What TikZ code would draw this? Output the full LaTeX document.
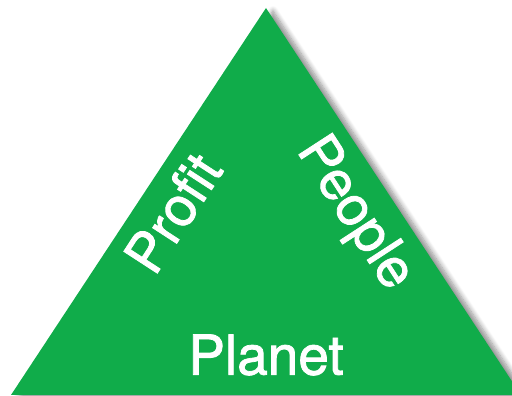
\documentclass[tikz,border=0pt]{standalone}
\usepackage{fontspec}
\setmainfont{TeX Gyre Heros}
\newfontfamily\labelfont[FakeBold=1.4]{TeX Gyre Heros}
\usetikzlibrary{%
		shadows.blur%
	}
\definecolor{leafgreen}{RGB}{16,172,74}

\begin{document}
\begin{tikzpicture}[x=1pt, y=1pt,
		label3p/.style={text=white, font=\labelfont\fontsize{55}{55}\selectfont, inner sep=0pt}]
			\useasboundingbox (0,0) rectangle (512,396);
			
			% Corners
			\coordinate (top) at (266,388);
			\coordinate (left) at (11,1);
			\coordinate (right) at (521,1);
			
			% Triangle
			\fill[leafgreen, blur shadow={shadow xshift=7pt, shadow yshift=-3pt, shadow blur steps=8, shadow blur radius=5pt, shadow opacity=45}] (top) -- (right) -- (left) -- cycle;
			
			% Labels
			\node[label3p, rotate=57] (profit) at (173,183) {Profit};
			\node[label3p, rotate=-57] (people) at (354,182) {People};
			\node[label3p] (planet) at (266,41) {Planet};
		\end{tikzpicture}
\end{document}
